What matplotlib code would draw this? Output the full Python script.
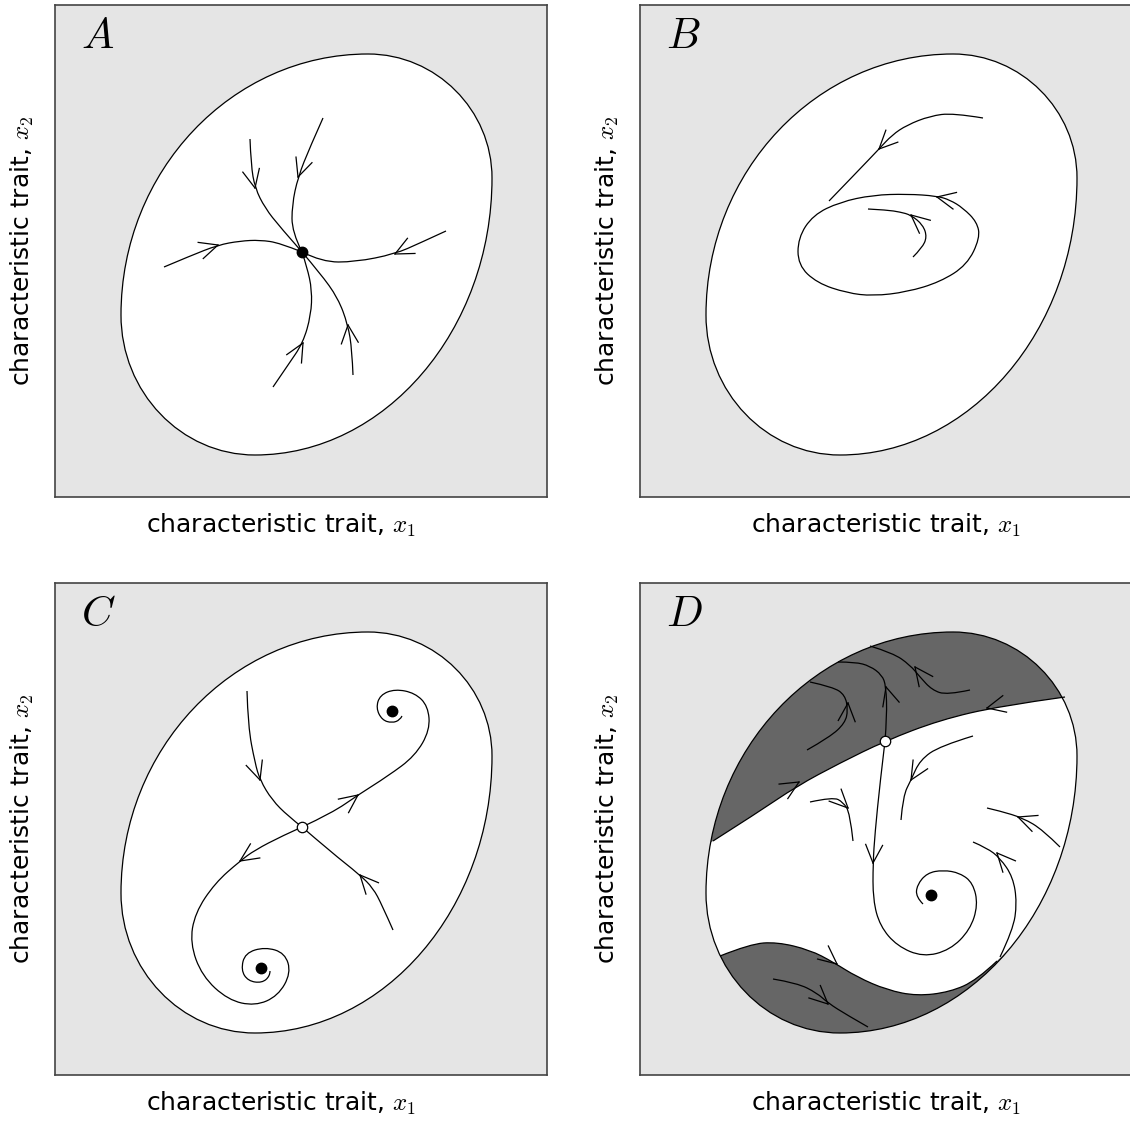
import numpy as np
import matplotlib
matplotlib.use("Agg")
import matplotlib.pyplot as plt
from matplotlib.path import Path
from matplotlib.patches import PathPatch

plt.rcParams["mathtext.fontset"] = "cm"

# all coordinates are pixels inside one 492 x 492 panel (y grows downwards)
BLOB_BEZIER = [(313, 49), (381, 49), (437, 105), (437, 173),
               (437, 325), (330, 450), (200, 450),
               (126, 450), (66, 387), (66, 310),
               (66, 166), (177, 49), (313, 49)]

# panel A: stable node with six trajectories
A_CURVES = [
    [(109, 262), (135, 251), (163, 240), (185, 236), (205, 235), (225, 238), (247, 247)],
    [(195, 134), (196, 160), (200, 183), (210, 203), (225, 222), (247, 247)],
    [(268, 113), (255, 142), (243, 172), (237, 200), (237, 227), (247, 247)],
    [(391, 226), (365, 238), (340, 249), (300, 257), (267, 257), (247, 247)],
    [(218, 382), (233, 360), (248, 338), (256, 310), (257, 285), (252, 262), (247, 247)],
    [(298, 370), (297, 345), (293, 320), (283, 293), (265, 268), (247, 247)],
]
A_ARROWS = [((163, 240), (144, 246)), ((200, 183), (196, 165)), ((243, 172), (250, 152)),
            ((340, 249), (356, 241)), ((248, 338), (239, 354)), ((293, 320), (295, 340))]
A_STABLE = [(247, 247)]
A_SADDLE = []

# panel B: limit cycle
B_CYCLE = [(297, 191), (267, 189), (233, 190), (200, 197), (173, 210), (158, 233),
           (158, 260), (177, 278), (207, 288), (233, 291), (267, 287), (300, 277),
           (327, 260), (340, 233), (337, 217), (323, 203), (310, 195)]
B_CURVES = [
    [(343, 113), (313, 108), (290, 111), (267, 120), (252, 130), (239, 144), (217, 167), (189, 196)],
    [(273, 252), (282, 243), (287, 232), (283, 220), (271, 210), (260, 207), (247, 205), (228, 204)],
]
B_ARROWS = [((239, 144), (252, 131)), ((297, 192), (316, 196)), ((271, 210), (284, 221))]

# panel C: saddle between two stable foci
C_CURVES = [
    [(192, 108), (193, 143), (200, 180), (205, 197), (217, 217), (233, 233), (247, 244)],
    [(338, 347), (327, 322), (318, 305), (305, 292), (276, 269), (247, 244)],
    [(247, 244), (277, 230), (303, 212), (333, 193), (360, 173), (375, 147), (373, 123),
     (360, 110), (340, 106), (325, 112), (321, 125), (327, 137), (337, 140), (345, 137), (347, 133)],
    [(247, 244), (227, 253), (200, 267), (185, 278), (160, 300), (140, 330), (135, 360),
     (147, 393), (173, 417), (200, 423), (223, 413), (236, 390), (230, 370), (210, 364),
     (190, 370), (186, 387), (193, 398), (207, 400), (215, 393), (215, 388)],
]
C_ARROWS = [((205, 197), (200, 182)), ((305, 292), (315, 303)),
            ((303, 212), (291, 221)), ((185, 278), (197, 270))]
C_STABLE = [(337, 128), (206, 385)]
C_SADDLE = [(247, 244)]

# panel D: separatrix and dark (non-viable) bands
D_SEPARATRIX = [(73, 258), (117, 230), (157, 203), (200, 180), (245, 158),
                (300, 137), (360, 123), (425, 114)]
D_BAND = [(80, 373), (110, 361), (137, 359), (170, 367), (193, 379), (217, 394),
          (247, 407), (277, 413), (310, 409), (337, 397), (357, 378)]
D_CURVES = [
    [(245, 158), (240, 200), (235, 250), (233, 280), (233, 317), (240, 343), (257, 363),
     (283, 374), (310, 367), (330, 347), (338, 322), (333, 300), (320, 290), (303, 287),
     (287, 290), (277, 302), (276, 314), (283, 321)],
    [(245, 158), (247, 133), (246, 103), (242, 92), (230, 83), (215, 79), (198, 79)],
    [(167, 167), (190, 154), (205, 140), (208, 127), (205, 112), (193, 104), (170, 99)],
    [(330, 107), (307, 112), (292, 107), (280, 94), (270, 82), (253, 70), (230, 63)],
    [(170, 219), (193, 214), (203, 219), (210, 230), (213, 258)],
    [(333, 153), (300, 163), (280, 177), (271, 197), (263, 213), (261, 237)],
    [(420, 264), (403, 247), (383, 235), (360, 228), (347, 225)],
    [(360, 374), (373, 347), (377, 320), (373, 294), (360, 275), (347, 265), (333, 259)],
    [(133, 396), (157, 400), (177, 410), (188, 420), (207, 432), (228, 444)],
]
D_ARROWS = [((347, 125), (360, 122)), ((159, 199), (144, 208)), ((233, 280), (234, 264)),
            ((246, 104), (250, 118)), ((208, 120), (207, 134)), ((275, 84), (284, 96)),
            ((208, 225), (198, 215)), ((271, 197), (280, 182)), ((378, 234), (394, 240)),
            ((357, 270), (366, 280)), ((197, 381), (186, 372)), ((188, 421), (176, 410))]
D_STABLE = [(291, 312)]
D_SADDLE = [(245, 158)]

PANEL_LETTERS = ["A", "B", "C", "D"]
XLABEL = r"characteristic trait, $x_1$"
YLABEL = r"characteristic trait, $x_2$"

BG = "#e5e5e5"
DARK = "#666666"
LW = 0.9
W, H = 1130, 1124
N = 492


def smooth(pts, closed=False):
    # quadratic B-spline through the midpoints of the waypoints
    p = np.asarray(pts, float)
    if closed:
        mids = (p + np.roll(p, -1, axis=0)) / 2
        verts, codes = [mids[-1]], [Path.MOVETO]
        for i in range(len(p)):
            verts += [p[i], mids[i]]
            codes += [Path.CURVE3, Path.CURVE3]
        return verts, codes
    verts, codes = [p[0]], [Path.MOVETO]
    for i in range(1, len(p) - 1):
        end = p[i + 1] if i == len(p) - 2 else (p[i] + p[i + 1]) / 2
        verts += [p[i], end]
        codes += [Path.CURVE3, Path.CURVE3]
    return verts, codes


def draw_curve(ax, pts, closed=False):
    v, c = smooth(pts, closed)
    ax.add_patch(PathPatch(Path(v, c), fc="none", ec="k", lw=LW, zorder=4))


def draw_arrow(ax, tip, tail, length=20, half=np.radians(25)):
    tip = np.array(tip, float)
    back = np.array(tail, float) - tip
    back /= np.hypot(*back)
    for s in (1, -1):
        c, sn = np.cos(s * half), np.sin(s * half)
        v = np.array([c * back[0] - sn * back[1], sn * back[0] + c * back[1]])
        ax.plot([tip[0], tip[0] + length * v[0]], [tip[1], tip[1] + length * v[1]],
                color="k", lw=LW, zorder=4)


def band_patch(pts, head, tail_pts, blob):
    v, c = smooth(pts)
    verts = [head] + v + tail_pts + [head]
    codes = [Path.MOVETO, Path.LINETO] + c[1:] + [Path.LINETO] * len(tail_pts) + [Path.CLOSEPOLY]
    p = PathPatch(Path(verts, codes), fc=DARK, ec="none", zorder=2)
    p.set_clip_path(blob)
    return p


fig = plt.figure(figsize=(W / 100, H / 100), dpi=100)
frames = [(55, 5), (640, 5), (55, 583), (640, 583)]
label_x = [0.46, 0.5, 0.46, 0.5]
axes = []
for (x0, y0), letter, lx in zip(frames, PANEL_LETTERS, label_x):
    ax = fig.add_axes([x0 / W, (H - y0 - N) / H, N / W, N / H])
    ax.set_xlim(0, N)
    ax.set_ylim(N, 0)
    ax.set_facecolor(BG)
    ax.set_xticks([])
    ax.set_yticks([])
    for sp in ax.spines.values():
        sp.set_color("#444444")
        sp.set_linewidth(1.2)
    blob_path = Path(BLOB_BEZIER + [(0, 0)], [Path.MOVETO] + [Path.CURVE4] * 12 + [Path.CLOSEPOLY])
    blob = PathPatch(blob_path, fc="white", ec="none", zorder=1)
    ax.add_patch(blob)
    ax.add_patch(PathPatch(blob_path, fc="none", ec="k", lw=LW, zorder=5))
    ax.text(26 / N, 1 - 10 / N, "$" + letter + "$", transform=ax.transAxes,
            fontsize=31, ha="left", va="top")
    ax.text(lx, -0.058, XLABEL, transform=ax.transAxes, fontsize=18,
            ha="center", va="center")
    ax.text(-0.067, 0.5, YLABEL, transform=ax.transAxes, fontsize=18,
            ha="center", va="center", rotation=90)
    axes.append((ax, blob))

panels = [
    (A_CURVES, A_ARROWS, A_STABLE, A_SADDLE),
    (B_CURVES, B_ARROWS, [], []),
    (C_CURVES, C_ARROWS, C_STABLE, C_SADDLE),
    (D_CURVES + [D_SEPARATRIX, D_BAND], D_ARROWS, D_STABLE, D_SADDLE),
]
for (ax, blob), (curves, arrows, stable, saddle) in zip(axes, panels):
    for pts in curves:
        draw_curve(ax, pts)
    for tip, tail in arrows:
        draw_arrow(ax, tip, tail)
    for x, y in stable:
        ax.plot(x, y, "o", color="k", ms=7.5, zorder=6)
    for x, y in saddle:
        ax.plot(x, y, "o", mfc="white", mec="k", mew=0.9, ms=7.5, zorder=6)

# limit cycle in B
draw_curve(axes[1][0], B_CYCLE, closed=True)

# dark bands in D, clipped to the viable region
axD, blobD = axes[3]
axD.add_patch(band_patch(D_SEPARATRIX, (0, 305), [(500, 103), (500, -10), (-10, -10), (-10, 305)], blobD))
axD.add_patch(band_patch(D_BAND, (-10, 412), [(420, 318), (500, 318), (500, 500), (-10, 500)], blobD))

fig.savefig("out.png", dpi=100)
